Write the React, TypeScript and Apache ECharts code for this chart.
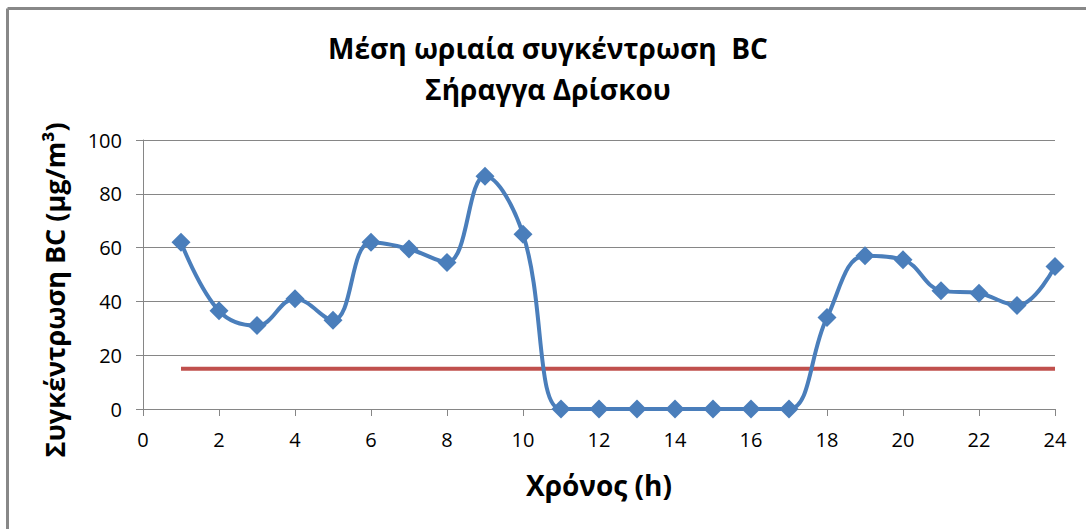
import React, { useEffect, useRef } from "react";
import * as echarts from "echarts";

const hours = [1, 2, 3, 4, 5, 6, 7, 8, 9, 10, 11, 12, 13, 14, 15, 16, 17, 18, 19, 20, 21, 22, 23, 24];
const bcValues = [62, 36.5, 31, 41, 33, 62, 59.5, 54.5, 86.5, 65, 0, 0, 0, 0, 0, 0, 0, 34, 57, 55.5, 44, 43, 38.5, 53];
const limitX = [1, 24];
const limitValue = 15;
const titleLines = ["Μέση ωριαία συγκέντρωση  BC", "Σήραγγα Δρίσκου"];
const xName = "Χρόνος (h)";
const yName = "Συγκέντρωση BC (μg/m³)";

export default function App() {
  const ref = useRef<HTMLDivElement>(null);
  useEffect(() => {
    if (!ref.current) return;
    const chart = echarts.init(ref.current, null, { renderer: "svg" });
    const font = "'Open Sans', 'Noto Sans', sans-serif";
    chart.setOption({
      animation: false,
      backgroundColor: "#ffffff",
      textStyle: { fontFamily: font },
      grid: { left: 143, right: 31, top: 140, bottom: 120 },
      graphic: [
        { type: "line", shape: { x1: 7.5, y1: 8.5, x2: 1086, y2: 8.5 }, style: { stroke: "#888", lineWidth: 3 } },
        { type: "line", shape: { x1: 7.5, y1: 8.5, x2: 7.5, y2: 529 }, style: { stroke: "#888", lineWidth: 3 } },
        {
          type: "text", x: 548, y: 48,
          style: { text: titleLines[0], font: `bold 28px ${font}`, fill: "#000", textAlign: "center", textVerticalAlign: "middle" },
        },
        {
          type: "text", x: 548, y: 89,
          style: { text: titleLines[1], font: `bold 28px ${font}`, fill: "#000", textAlign: "center", textVerticalAlign: "middle" },
        },
        {
          type: "text", x: 54, y: 290, rotation: Math.PI / 2,
          style: { text: yName, font: `bold 27px ${font}`, fill: "#000", textAlign: "center", textVerticalAlign: "middle" },
        },
      ],
      xAxis: {
        type: "value", min: 0, max: 24, interval: 2,
        name: xName, nameLocation: "middle", nameGap: 62,
        nameTextStyle: { fontSize: 28, fontWeight: "bold", color: "#000", fontFamily: font },
        axisLine: { show: true, onZero: false, lineStyle: { color: "#868686", width: 1 } },
        axisTick: { show: true, inside: false, length: 7, lineStyle: { color: "#868686" } },
        axisLabel: { fontSize: 20, color: "#000", margin: 20, fontFamily: font },
        splitLine: { show: false },
      },
      yAxis: {
        type: "value", min: 0, max: 100, interval: 20,
        axisLine: { show: true, lineStyle: { color: "#868686", width: 1 } },
        axisTick: { show: true, inside: false, length: 7, lineStyle: { color: "#868686" } },
        axisLabel: { fontSize: 20, color: "#000", margin: 21, fontFamily: font },
        splitLine: { show: true, lineStyle: { color: "#868686", width: 1 } },
      },
      series: [
        {
          type: "line",
          data: limitX.map((x) => [x, limitValue]),
          showSymbol: false,
          lineStyle: { color: "#C0504D", width: 4 },
          z: 2,
        },
        {
          type: "line",
          data: hours.map((h, i) => [h, bcValues[i]]),
          smooth: 0.4,
          symbol: "diamond",
          symbolSize: 19,
          itemStyle: { color: "#4A7EBB" },
          lineStyle: { color: "#4A7EBB", width: 4 },
          z: 3,
        },
      ],
    });
    return () => chart.dispose();
  }, []);
  return <div ref={ref} style={{ position: "fixed", left: 0, top: 0, width: 1086, height: 529 }} />;
}
